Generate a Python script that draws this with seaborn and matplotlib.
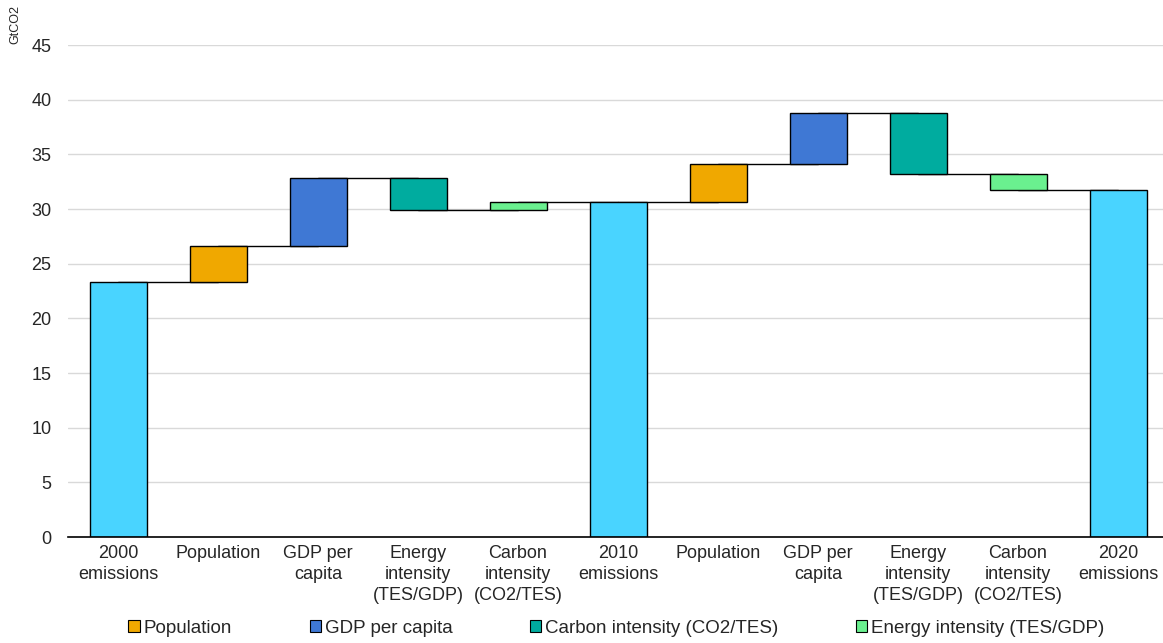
import numpy as np
import pandas as pd
import matplotlib
matplotlib.use("Agg")
import matplotlib.pyplot as plt
import matplotlib.patches as mpatches
import seaborn as sns

# --- data (GtCO2) ---
labels = ["2000\nemissions", "Population", "GDP per\ncapita",
          "Energy\nintensity\n(TES/GDP)", "Carbon\nintensity\n(CO2/TES)",
          "2010\nemissions", "Population", "GDP per\ncapita",
          "Energy\nintensity\n(TES/GDP)", "Carbon\nintensity\n(CO2/TES)",
          "2020\nemissions"]
total_2000 = 23.3
total_2010 = 30.6
total_2020 = 31.7
changes_2000s = [3.3, 6.2, -2.9, 0.7]
changes_2010s = [3.5, 4.7, -5.6, -1.5]
kinds = ["total", "pop", "gdp", "energy", "carbon",
         "total", "pop", "gdp", "energy", "carbon", "total"]

colors = {"total": "#49D4FF", "pop": "#F0A800", "gdp": "#3F78D4",
          "energy": "#00AC9F", "carbon": "#6AF08F"}

legend_items = [("Population", "#F0A800"), ("GDP per capita", "#3F78D4"),
                ("Carbon intensity (CO2/TES)", "#00AC9F"),
                ("Energy intensity (TES/GDP)", "#6AF08F")]

# waterfall bookkeeping
steps = [total_2000] + changes_2000s + [total_2010] + changes_2010s + [total_2020]
bottoms, heights, levels = [], [], []
level = 0.0
for k, v in zip(kinds, steps):
    if k == "total":
        bottoms.append(0.0)
        heights.append(v)
        level = v
    else:
        bottoms.append(min(level, level + v))
        heights.append(abs(v))
        level = level + v
    levels.append(level)

df = pd.DataFrame({"pos": np.arange(len(labels)), "height": heights,
                   "bottom": bottoms, "kind": kinds})

sns.set_style("white")
plt.rcParams["font.family"] = ["Liberation Sans", "DejaVu Sans"]

fig = plt.figure(figsize=(11.63, 6.43), dpi=100)
ax = fig.add_axes([68 / 1163, 106 / 643, 1095 / 1163, 492 / 643])

# connector lines between bars
for i in range(len(labels) - 1):
    ax.plot([i, i + 1], [levels[i], levels[i]], color="black", lw=1, zorder=1)

sns.barplot(data=df, x="pos", y="height", bottom=df["bottom"].to_numpy(),
            width=0.57, color="#49D4FF", edgecolor="black", linewidth=1,
            errorbar=None, ax=ax, zorder=2)
for p, k in zip(ax.patches, kinds):
    p.set_facecolor(colors[k])

ax.set_ylim(0, 45)
ax.set_xlim(-0.5, 10.45)
ax.set_yticks(range(0, 46, 5))
ax.yaxis.grid(True, color="#D9D9D9", lw=1)
ax.set_axisbelow(True)
ax.set_xticks(range(len(labels)))
ax.set_xticklabels(labels, fontsize=13, linespacing=1.3)
ax.tick_params(axis="y", labelsize=13, length=0, pad=12)
ax.tick_params(axis="x", length=0, pad=6)
ax.set_xlabel("")
ax.set_ylabel("")
for s in ["top", "right", "left"]:
    ax.spines[s].set_visible(False)
ax.spines["bottom"].set_color("black")
ax.spines["bottom"].set_linewidth(1.2)

fig.text(0.013, 0.962, "GtCO2", rotation=90, fontsize=9, ha="center", va="center")

handles = [mpatches.Patch(facecolor=c, edgecolor="black", lw=0.8, label=l)
           for l, c in legend_items]
fig.legend(handles=handles, loc="center", bbox_to_anchor=(0.53, 0.023), ncol=4,
           frameon=False, fontsize=13.5, handlelength=0.6, handleheight=0.65,
           handletextpad=0.2, columnspacing=4.15)

fig.savefig("out.png", dpi=100)
